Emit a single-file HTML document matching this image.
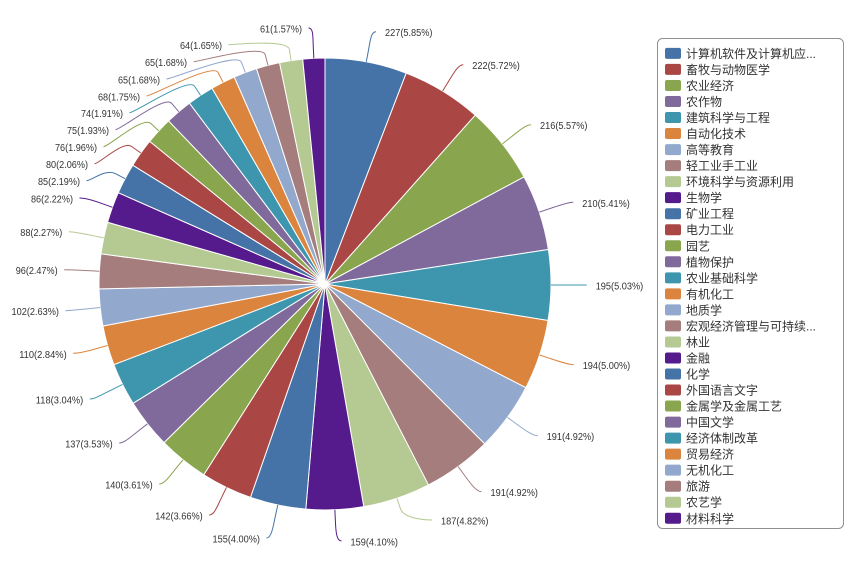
<!DOCTYPE html>
<html>
<head>
<meta charset="utf-8">
<style>
html,body{margin:0;padding:0;background:#fff;}
svg{display:block;}
.lb{font-family:"Liberation Sans","Noto Sans CJK SC",sans-serif;font-size:10px;fill:#333;}
.lg{font-family:"Liberation Sans","Noto Sans CJK SC",sans-serif;font-size:12px;fill:#333;}
</style>
</head>
<body>
<svg width="857" height="566" viewBox="0 0 857 566" xmlns="http://www.w3.org/2000/svg">
<rect width="857" height="566" fill="#fff"/>
<g stroke="#fff" stroke-width="1" stroke-linejoin="round">
<path fill="#4572A7" d="M325,284 L325,58 A226,226 0 0 1 406.24,73.11 Z"/>
<path fill="#AA4643" d="M325,284 L406.24,73.11 A226,226 0 0 1 475.26,115.18 Z"/>
<path fill="#89A54E" d="M325,284 L475.26,115.18 A226,226 0 0 1 524.02,176.91 Z"/>
<path fill="#80699B" d="M325,284 L524.02,176.91 A226,226 0 0 1 548.34,249.45 Z"/>
<path fill="#3D96AE" d="M325,284 L548.34,249.45 A226,226 0 0 1 548.03,320.54 Z"/>
<path fill="#DB843D" d="M325,284 L548.03,320.54 A226,226 0 0 1 525.81,387.69 Z"/>
<path fill="#92A8CD" d="M325,284 L525.81,387.69 A226,226 0 0 1 484.71,443.90 Z"/>
<path fill="#A47D7C" d="M325,284 L484.71,443.90 A226,226 0 0 1 428.44,484.94 Z"/>
<path fill="#B5CA92" d="M325,284 L428.44,484.94 A226,226 0 0 1 363.80,506.65 Z"/>
<path fill="#551A8B" d="M325,284 L363.80,506.65 A226,226 0 0 1 305.81,509.18 Z"/>
<path fill="#4572A7" d="M325,284 L305.81,509.18 A226,226 0 0 1 250.46,497.36 Z"/>
<path fill="#AA4643" d="M325,284 L250.46,497.36 A226,226 0 0 1 203.78,474.75 Z"/>
<path fill="#89A54E" d="M325,284 L203.78,474.75 A226,226 0 0 1 164.00,442.61 Z"/>
<path fill="#80699B" d="M325,284 L164.00,442.61 A226,226 0 0 1 133.04,403.28 Z"/>
<path fill="#3D96AE" d="M325,284 L133.04,403.28 A226,226 0 0 1 113.88,364.64 Z"/>
<path fill="#DB843D" d="M325,284 L113.88,364.64 A226,226 0 0 1 102.92,325.95 Z"/>
<path fill="#92A8CD" d="M325,284 L102.92,325.95 A226,226 0 0 1 99.05,288.85 Z"/>
<path fill="#A47D7C" d="M325,284 L99.05,288.85 A226,226 0 0 1 101.03,253.80 Z"/>
<path fill="#B5CA92" d="M325,284 L101.03,253.80 A226,226 0 0 1 107.59,222.29 Z"/>
<path fill="#551A8B" d="M325,284 L107.59,222.29 A226,226 0 0 1 118.26,192.70 Z"/>
<path fill="#4572A7" d="M325,284 L118.26,192.70 A226,226 0 0 1 132.75,165.18 Z"/>
<path fill="#AA4643" d="M325,284 L132.75,165.18 A226,226 0 0 1 149.71,141.34 Z"/>
<path fill="#89A54E" d="M325,284 L149.71,141.34 A226,226 0 0 1 168.56,120.90 Z"/>
<path fill="#80699B" d="M325,284 L168.56,120.90 A226,226 0 0 1 189.48,103.14 Z"/>
<path fill="#3D96AE" d="M325,284 L189.48,103.14 A226,226 0 0 1 212.08,88.23 Z"/>
<path fill="#DB843D" d="M325,284 L212.08,88.23 A226,226 0 0 1 234.28,77.00 Z"/>
<path fill="#92A8CD" d="M325,284 L234.28,77.00 A226,226 0 0 1 256.54,68.61 Z"/>
<path fill="#A47D7C" d="M325,284 L256.54,68.61 A226,226 0 0 1 279.55,62.61 Z"/>
<path fill="#B5CA92" d="M325,284 L279.55,62.61 A226,226 0 0 1 302.71,59.10 Z"/>
<path fill="#551A8B" d="M325,284 L302.71,59.10 A226,226 0 0 1 325,58 Z"/>
</g>
<g fill="none" stroke-width="1">
<path stroke="#4572A7" d="M376,31.7 C371,31.7 370.34,40.18 368.33,50.99 L366.32,61.81"/>
<path stroke="#AA4643" d="M463.3,64.7 C458.3,64.7 454.10,72.25 448.37,81.64 L442.65,91.03"/>
<path stroke="#89A54E" d="M531,124.7 C526,124.7 519.61,130.27 510.98,137.09 L502.35,143.91"/>
<path stroke="#80699B" d="M573.3,202.3 C568.3,202.3 560.14,205.15 549.71,208.65 L539.28,212.14"/>
<path stroke="#3D96AE" d="M586.7,285 C581.7,285 573,285.10 562,285.05 L551,285.01"/>
<path stroke="#DB843D" d="M573.7,364.7 C568.7,364.7 560.45,361.90 550.01,358.45 L539.56,354.99"/>
<path stroke="#92A8CD" d="M537.7,435.7 C532.7,435.7 525.20,430.37 516.32,423.88 L507.44,417.39"/>
<path stroke="#A47D7C" d="M481.5,491.7 C476.5,491.7 471.13,484.38 464.65,475.49 L458.17,466.60"/>
<path stroke="#B5CA92" d="M432,520 C427,520 403.94,519.10 400.44,508.67 L396.94,498.25"/>
<path stroke="#551A8B" d="M341.5,541 C336.5,541 335.84,531.76 335.36,520.77 L334.88,509.78"/>
<path stroke="#4572A7" d="M266.5,538 C271.5,538 273.16,526.52 275.46,515.76 L277.76,505.01"/>
<path stroke="#AA4643" d="M209.2,515 C214.2,515 216.88,507.19 221.68,497.29 L226.47,487.39"/>
<path stroke="#89A54E" d="M159.2,484 C164.2,484 169.15,476.92 176.07,468.36 L182.98,459.80"/>
<path stroke="#80699B" d="M119.2,443 C124.2,443 130.14,437.41 138.78,430.61 L147.43,423.80"/>
<path stroke="#3D96AE" d="M89.8,399 C94.8,399 102.82,394.19 112.68,389.31 L122.53,384.42"/>
<path stroke="#DB843D" d="M73.2,353.3 C78.2,353.3 86.37,351.53 96.95,348.53 L107.54,345.54"/>
<path stroke="#92A8CD" d="M65.5,310.7 C70.5,310.7 78.34,309.76 89.28,308.62 L100.22,307.48"/>
<path stroke="#A47D7C" d="M64.2,269.7 C69.2,269.7 77.39,270.05 88.37,270.67 L99.36,271.29"/>
<path stroke="#B5CA92" d="M68.8,231.7 C73.8,231.7 82.21,233.44 92.98,235.68 L103.75,237.92"/>
<path stroke="#551A8B" d="M79.5,198 C84.5,198 91.72,199.84 102.06,203.57 L112.41,207.30"/>
<path stroke="#4572A7" d="M86.5,180.7 C91.5,180.7 105.57,168.44 115.30,173.57 L125.03,178.69"/>
<path stroke="#AA4643" d="M94.5,163.7 C99.5,163.7 122.91,140.23 131.88,146.61 L140.84,152.99"/>
<path stroke="#89A54E" d="M103.5,146.7 C108.5,146.7 142.65,115.92 150.73,123.37 L158.82,130.83"/>
<path stroke="#80699B" d="M115.5,129.7 C120.5,129.7 164.51,94.93 171.63,103.31 L178.75,111.70"/>
<path stroke="#3D96AE" d="M129.5,112.7 C134.5,112.7 188.44,76.98 194.49,86.16 L200.55,95.34"/>
<path stroke="#DB843D" d="M146.5,96 C151.5,96 213.10,62.68 218.06,72.49 L223.03,82.31"/>
<path stroke="#92A8CD" d="M166.5,79 C171.5,79 237.54,51.93 241.42,62.22 L245.30,72.51"/>
<path stroke="#A47D7C" d="M193.5,61.7 C198.5,61.7 262.41,44.02 265.19,54.66 L267.97,65.31"/>
<path stroke="#B5CA92" d="M228.5,44.7 C233.5,44.7 287.78,38.81 289.43,49.69 L291.08,60.56"/>
<path stroke="#551A8B" d="M308.5,28 C313.5,28 312.76,36.30 313.30,47.29 L313.84,58.28"/>
</g>
<g class="lb">
<text x="385" y="36.2" textLength="47.5" lengthAdjust="spacingAndGlyphs">227(5.85%)</text>
<text x="472.3" y="69.2" textLength="47.5" lengthAdjust="spacingAndGlyphs">222(5.72%)</text>
<text x="540" y="129.2" textLength="47.5" lengthAdjust="spacingAndGlyphs">216(5.57%)</text>
<text x="582.3" y="206.8" textLength="47.5" lengthAdjust="spacingAndGlyphs">210(5.41%)</text>
<text x="595.7" y="289.5" textLength="47.5" lengthAdjust="spacingAndGlyphs">195(5.03%)</text>
<text x="582.7" y="369.2" textLength="47.5" lengthAdjust="spacingAndGlyphs">194(5.00%)</text>
<text x="546.7" y="440.2" textLength="47.5" lengthAdjust="spacingAndGlyphs">191(4.92%)</text>
<text x="490.5" y="496.2" textLength="47.5" lengthAdjust="spacingAndGlyphs">191(4.92%)</text>
<text x="441" y="524.5" textLength="47.5" lengthAdjust="spacingAndGlyphs">187(4.82%)</text>
<text x="350.5" y="545.5" textLength="47.5" lengthAdjust="spacingAndGlyphs">159(4.10%)</text>
</g>
<g class="lb" text-anchor="end">
<text x="260" y="542.5" textLength="47.5" lengthAdjust="spacingAndGlyphs">155(4.00%)</text>
<text x="202.7" y="519.5" textLength="47.5" lengthAdjust="spacingAndGlyphs">142(3.66%)</text>
<text x="152.7" y="488.5" textLength="47.5" lengthAdjust="spacingAndGlyphs">140(3.61%)</text>
<text x="112.7" y="447.5" textLength="47.5" lengthAdjust="spacingAndGlyphs">137(3.53%)</text>
<text x="83.3" y="403.5" textLength="47.5" lengthAdjust="spacingAndGlyphs">118(3.04%)</text>
<text x="66.7" y="357.8" textLength="47.5" lengthAdjust="spacingAndGlyphs">110(2.84%)</text>
<text x="59" y="315.2" textLength="47.5" lengthAdjust="spacingAndGlyphs">102(2.63%)</text>
<text x="57.7" y="274.2" textLength="42" lengthAdjust="spacingAndGlyphs">96(2.47%)</text>
<text x="62.3" y="236.2" textLength="42" lengthAdjust="spacingAndGlyphs">88(2.27%)</text>
<text x="73" y="202.5" textLength="42" lengthAdjust="spacingAndGlyphs">86(2.22%)</text>
<text x="80" y="185.2" textLength="42" lengthAdjust="spacingAndGlyphs">85(2.19%)</text>
<text x="88" y="168.2" textLength="42" lengthAdjust="spacingAndGlyphs">80(2.06%)</text>
<text x="97" y="151.2" textLength="42" lengthAdjust="spacingAndGlyphs">76(1.96%)</text>
<text x="109" y="134.2" textLength="42" lengthAdjust="spacingAndGlyphs">75(1.93%)</text>
<text x="123" y="117.2" textLength="42" lengthAdjust="spacingAndGlyphs">74(1.91%)</text>
<text x="140" y="100.5" textLength="42" lengthAdjust="spacingAndGlyphs">68(1.75%)</text>
<text x="160" y="83.5" textLength="42" lengthAdjust="spacingAndGlyphs">65(1.68%)</text>
<text x="187" y="66.2" textLength="42" lengthAdjust="spacingAndGlyphs">65(1.68%)</text>
<text x="222" y="49.2" textLength="42" lengthAdjust="spacingAndGlyphs">64(1.65%)</text>
<text x="302" y="32.5" textLength="42" lengthAdjust="spacingAndGlyphs">61(1.57%)</text>
</g>
<rect x="657.5" y="38.5" width="186" height="490" rx="5" ry="5" fill="#fff" stroke="#909090" stroke-width="1"/>
<g>
<rect x="665" y="47.9" width="16" height="11" rx="2" fill="#4572A7"/>
<rect x="665" y="63.9" width="16" height="11" rx="2" fill="#AA4643"/>
<rect x="665" y="79.96" width="16" height="11" rx="2" fill="#89A54E"/>
<rect x="665" y="95.99" width="16" height="11" rx="2" fill="#80699B"/>
<rect x="665" y="112.02" width="16" height="11" rx="2" fill="#3D96AE"/>
<rect x="665" y="128.05" width="16" height="11" rx="2" fill="#DB843D"/>
<rect x="665" y="144.08" width="16" height="11" rx="2" fill="#92A8CD"/>
<rect x="665" y="160.11" width="16" height="11" rx="2" fill="#A47D7C"/>
<rect x="665" y="176.14" width="16" height="11" rx="2" fill="#B5CA92"/>
<rect x="665" y="192.17" width="16" height="11" rx="2" fill="#551A8B"/>
<rect x="665" y="208.2" width="16" height="11" rx="2" fill="#4572A7"/>
<rect x="665" y="224.23" width="16" height="11" rx="2" fill="#AA4643"/>
<rect x="665" y="240.26" width="16" height="11" rx="2" fill="#89A54E"/>
<rect x="665" y="256.29" width="16" height="11" rx="2" fill="#80699B"/>
<rect x="665" y="272.32" width="16" height="11" rx="2" fill="#3D96AE"/>
<rect x="665" y="288.35" width="16" height="11" rx="2" fill="#DB843D"/>
<rect x="665" y="304.38" width="16" height="11" rx="2" fill="#92A8CD"/>
<rect x="665" y="320.41" width="16" height="11" rx="2" fill="#A47D7C"/>
<rect x="665" y="336.44" width="16" height="11" rx="2" fill="#B5CA92"/>
<rect x="665" y="352.47" width="16" height="11" rx="2" fill="#551A8B"/>
<rect x="665" y="368.5" width="16" height="11" rx="2" fill="#4572A7"/>
<rect x="665" y="384.53" width="16" height="11" rx="2" fill="#AA4643"/>
<rect x="665" y="400.56" width="16" height="11" rx="2" fill="#89A54E"/>
<rect x="665" y="416.59" width="16" height="11" rx="2" fill="#80699B"/>
<rect x="665" y="432.62" width="16" height="11" rx="2" fill="#3D96AE"/>
<rect x="665" y="448.65" width="16" height="11" rx="2" fill="#DB843D"/>
<rect x="665" y="464.68" width="16" height="11" rx="2" fill="#92A8CD"/>
<rect x="665" y="480.71" width="16" height="11" rx="2" fill="#A47D7C"/>
<rect x="665" y="496.74" width="16" height="11" rx="2" fill="#B5CA92"/>
<rect x="665" y="512.77" width="16" height="11" rx="2" fill="#551A8B"/>
</g>
<g class="lg">
<text x="686" y="57.9">计算机软件及计算机应...</text>
<text x="686" y="73.9">畜牧与动物医学</text>
<text x="686" y="89.96">农业经济</text>
<text x="686" y="105.99">农作物</text>
<text x="686" y="122.02">建筑科学与工程</text>
<text x="686" y="138.05">自动化技术</text>
<text x="686" y="154.08">高等教育</text>
<text x="686" y="170.11">轻工业手工业</text>
<text x="686" y="186.14">环境科学与资源利用</text>
<text x="686" y="202.17">生物学</text>
<text x="686" y="218.2">矿业工程</text>
<text x="686" y="234.23">电力工业</text>
<text x="686" y="250.26">园艺</text>
<text x="686" y="266.29">植物保护</text>
<text x="686" y="282.32">农业基础科学</text>
<text x="686" y="298.35">有机化工</text>
<text x="686" y="314.38">地质学</text>
<text x="686" y="330.41">宏观经济管理与可持续...</text>
<text x="686" y="346.44">林业</text>
<text x="686" y="362.47">金融</text>
<text x="686" y="378.5">化学</text>
<text x="686" y="394.53">外国语言文字</text>
<text x="686" y="410.56">金属学及金属工艺</text>
<text x="686" y="426.59">中国文学</text>
<text x="686" y="442.62">经济体制改革</text>
<text x="686" y="458.65">贸易经济</text>
<text x="686" y="474.68">无机化工</text>
<text x="686" y="490.71">旅游</text>
<text x="686" y="506.74">农艺学</text>
<text x="686" y="522.77">材料科学</text>
</g>
</svg>
</body>
</html>
